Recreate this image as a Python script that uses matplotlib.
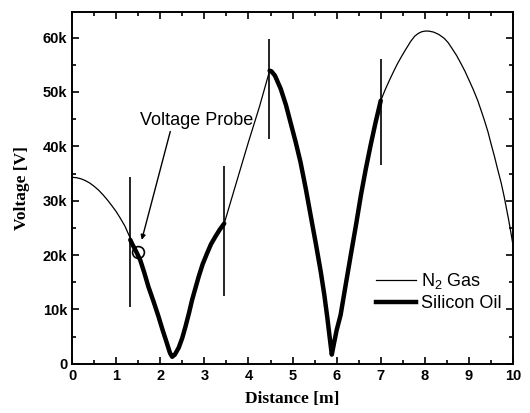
import numpy as np
import matplotlib
matplotlib.use("Agg")
import matplotlib.pyplot as plt
from matplotlib.ticker import FuncFormatter, MultipleLocator

plt.rcParams['mathtext.fontset'] = 'custom'
plt.rcParams['mathtext.rm'] = 'Liberation Sans'

# N2 gas sections (thin line), distance [m] / voltage [V]
gas1_x = [0.0, 0.1, 0.2, 0.3, 0.4, 0.5, 0.6, 0.7, 0.8, 0.9, 1.0, 1.1, 1.2, 1.32]
gas1_v = [34300, 34230, 34030, 33700, 33250, 32650, 31950, 31100, 30150, 29100, 28000, 26700, 25300, 23100]
gas2_x = [3.45, 3.75, 4.0, 4.25, 4.48]
gas2_v = [25800, 34000, 40800, 47300, 53900]
gas3_x = [7.0, 7.1, 7.2, 7.3, 7.38, 7.47, 7.55, 7.68, 7.77, 7.85, 7.93, 8.02, 8.1, 8.2, 8.32,
          8.44, 8.53, 8.62, 8.72, 8.82, 8.91, 9.0, 9.1, 9.2, 9.28, 9.35, 9.43, 9.5, 9.58, 9.65,
          9.73, 9.8, 9.85, 9.9, 9.95, 10.0]
gas3_v = [48400, 50400, 52200, 53900, 55200, 56500, 57600, 59300, 60250, 60750, 61070, 61200, 61170, 61000, 60550,
          59850, 59050, 57950, 56700, 55200, 53800, 52200, 50400, 48400, 46500, 44800, 42700, 40500, 38100, 35800,
          33300, 30700, 28600, 26500, 24200, 21800]

# silicon oil sections (thick line)
oil1_x = [1.32, 1.36, 1.45, 1.545, 1.64, 1.73, 1.85, 1.96, 2.05, 2.15, 2.22, 2.27, 2.33, 2.42,
          2.5, 2.57, 2.65, 2.72, 2.8, 2.87, 2.96, 3.06, 3.15, 3.25, 3.35, 3.45]
oil1_v = [22800, 22100, 20700, 19100, 16700, 14200, 11400, 8700, 6300, 3800, 2000, 1300, 1700, 3000,
          4800, 6800, 9300, 11700, 14000, 16000, 18300, 20300, 22000, 23400, 24700, 25800]
oil2_x = [4.48, 4.52, 4.6, 4.73, 4.85, 4.95, 5.07, 5.18, 5.3, 5.41, 5.53, 5.64, 5.72, 5.79, 5.84,
          5.89, 5.94, 6.0, 6.09, 6.2, 6.32, 6.44, 6.55, 6.66, 6.77, 6.88, 7.0]
oil2_v = [53900, 53800, 53000, 50600, 47600, 44500, 40800, 37100, 32200, 27300, 22000, 16900, 12700, 8400, 5000,
          1700, 3800, 6200, 9000, 14300, 20000, 25600, 31000, 35800, 40200, 44300, 48400]

# probe positions (vertical markers)
probe_x = [1.32, 3.45, 4.47, 7.0]
probe_lo = [10500, 12500, 41300, 36500]
probe_hi = [34300, 36300, 59800, 56100]

probe_pt = (1.49, 20600)

fig = plt.figure(figsize=(5.30, 4.13), dpi=100)
ax = fig.add_axes([0.136, 0.119, 0.832, 0.852])

for gx, gv in [(gas1_x, gas1_v), (gas2_x, gas2_v), (gas3_x, gas3_v)]:
    ax.plot(gx, gv, color='black', lw=0.9)
for ox, ov in [(oil1_x, oil1_v), (oil2_x, oil2_v)]:
    ax.plot(ox, ov, color='black', lw=3.2, solid_capstyle='round', solid_joinstyle='round')
ax.vlines(probe_x, probe_lo, probe_hi, color='black', lw=1.2)

ax.plot(*probe_pt, marker='o', ms=8.5, mfc='none', mec='black', mew=1.2)
ax.annotate('Voltage Probe', xy=(1.58, 22800), xytext=(1.55, 44800),
            fontsize=13, fontfamily='Liberation Sans', va='center', ha='left',
            arrowprops=dict(arrowstyle='-|>', color='black', lw=1.0,
                            shrinkA=0, shrinkB=0, mutation_scale=7,
                            relpos=(0.27, 0.0)))

# legend proxies
ax.plot([], [], color='black', lw=0.9, label=r'N$_\mathregular{2}$ Gas')
ax.plot([], [], color='black', lw=3.2, label='Silicon Oil')
handles, labels = ax.get_legend_handles_labels()
ax.legend(handles[-2:], labels[-2:], loc='center left', bbox_to_anchor=(0.69, 0.205),
          frameon=False, borderpad=0, borderaxespad=0, handlelength=2.2,
          handletextpad=0.3, labelspacing=0.25,
          prop={'family': 'Liberation Sans', 'size': 13})

ax.set_xlim(0, 10)
ax.set_ylim(0, 64700)
ax.xaxis.set_major_locator(MultipleLocator(1))
ax.xaxis.set_minor_locator(MultipleLocator(0.5))
ax.yaxis.set_major_locator(MultipleLocator(10000))
ax.yaxis.set_minor_locator(MultipleLocator(5000))
ax.yaxis.set_major_formatter(FuncFormatter(lambda v, p: '0' if v == 0 else f'{v / 1000:g}k'))

ax.tick_params(which='both', direction='in', top=True, right=True, width=1.2)
ax.tick_params(which='major', length=5)
ax.tick_params(which='minor', length=3)
for lab in ax.get_xticklabels() + ax.get_yticklabels():
    lab.set_fontfamily('Liberation Sans')
    lab.set_fontweight('bold')
    lab.set_fontsize(10.5)
for s in ax.spines.values():
    s.set_linewidth(1.4)

ax.set_xlabel('Distance [m]', fontfamily='Liberation Serif', fontweight='bold', fontsize=12.5, labelpad=6)
ax.set_ylabel('Voltage [V]', fontfamily='Liberation Serif', fontweight='bold', fontsize=12.5, labelpad=9)

fig.savefig('out.png', dpi=100)
